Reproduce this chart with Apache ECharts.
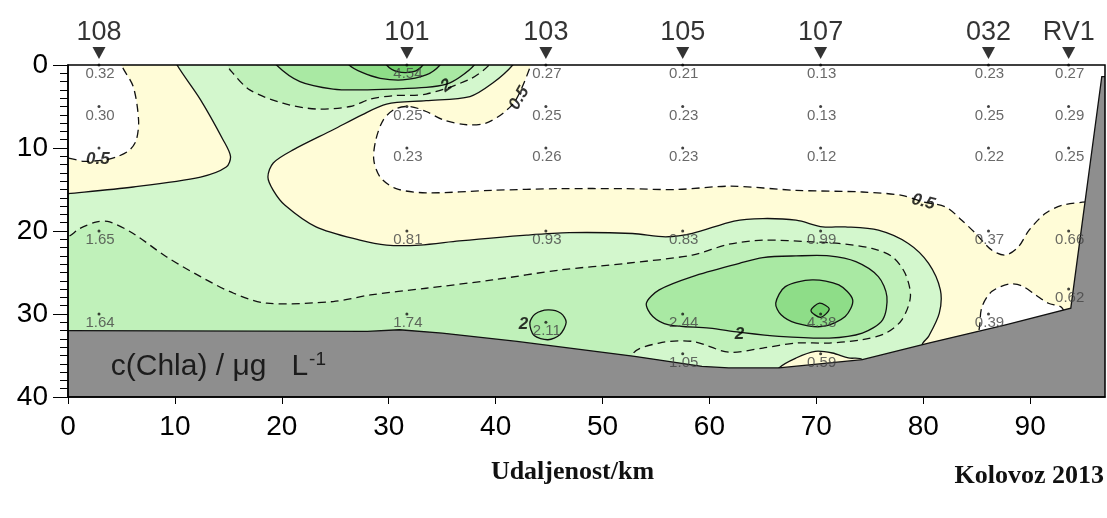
<!DOCTYPE html>
<html>
<head>
<meta charset="utf-8">
<title>Chla transekt</title>
<script src="https://cdn.jsdelivr.net/npm/echarts@6/dist/echarts.min.js"></script>
<style>
html,body{margin:0;padding:0;background:#fff}
#main{width:1107px;height:518px}
</style>
</head>
<body>
<div id="main"></div>
<script>
// postaje na transektu (km)
var stationNames = ['108', '101', '103', '105', '107', '032', 'RV1'];
var stationKm = [2.9, 31.7, 44.7, 57.5, 70.4, 86.1, 93.6];

// uzorci [km, dubina m, Chla]
var samples = [
    [2.9, 0, 0.32], [2.9, 5, 0.30], [2.9, 10, null], [2.9, 20, 1.65], [2.9, 30, 1.64],
    [31.7, 0, 4.54], [31.7, 5, 0.25], [31.7, 10, 0.23], [31.7, 20, 0.81], [31.7, 30, 1.74],
    [44.7, 0, 0.27], [44.7, 5, 0.25], [44.7, 10, 0.26], [44.7, 20, 0.93], [44.7, 31, 2.11],
    [57.5, 0, 0.21], [57.5, 5, 0.23], [57.5, 10, 0.23], [57.5, 20, 0.83], [57.5, 30, 2.44], [57.5, 34.8, 1.05],
    [70.4, 0, 0.13], [70.4, 5, 0.13], [70.4, 10, 0.12], [70.4, 20, 0.99], [70.4, 30, 4.38], [70.4, 34.8, 0.59],
    [86.1, 0, 0.23], [86.1, 5, 0.25], [86.1, 10, 0.22], [86.1, 20, 0.37], [86.1, 30, 0.39],
    [93.6, 0, 0.27], [93.6, 5, 0.29], [93.6, 10, 0.25], [93.6, 20, 0.66], [93.6, 27, 0.62]
];

// dno
var bottom = [[-1, 32.0], [0, 32.0], [28, 32.1], [31, 31.9], [35, 32.3], [42, 33.3], [53, 35.1], [59.3, 36.3],
    [61.8, 36.5], [66.5, 36.5], [74.3, 35.5], [80.5, 33.5], [87.7, 31.3], [93.8, 29.3], [96.7, 1.4], [99, 1.4], [99, 42], [-1, 42]];

// izolinije (km, m) ocitane sa slike
var domain = [[-1, -1], [99, -1], [99, 42], [-1, 42]];
var iso05a = [[-1, -1], [5.0, -1], [5.0, 0], [6.1, 2.6], [6.6, 6.6], [6.4, 9.0], [5.8, 10.2], [4.7, 11.0], [3.6, 11.4], [1.5, 11.6], [0, 11.2], [-1, 11.1]];
var iso05b = [[43.4, -1], [43.3, 0], [41.9, 4.2], [40.7, 5.8], [39.1, 7.0], [37.3, 7.2], [35.1, 6.6], [33.5, 5.6], [32.0, 5.0],
    [30.6, 5.3], [29.5, 6.6], [28.8, 9.0], [28.6, 11.4], [29.2, 13.5], [30.7, 14.9], [33.5, 15.4], [39.7, 15.1], [46.0, 14.9],
    [52.2, 14.9], [56.9, 15.0], [62.0, 14.6], [68.1, 15.1], [74.3, 15.3], [78.0, 15.7], [80.0, 16.5], [82.1, 17.1], [83.6, 18.7],
    [84.9, 20.3], [86.4, 22.3], [87.7, 22.9], [88.9, 21.9], [89.9, 19.9], [91.4, 17.9], [93.0, 16.9], [95.3, 16.5], [99, 16.3], [99, -1]];
var iso05c = [[85.0, 38], [85.3, 31.1], [85.5, 29.1], [86.4, 27.3], [88.0, 26.4], [89.2, 26.6], [90.5, 27.7], [91.7, 28.7], [93.0, 29.3], [94, 33], [94, 38]];
var iso1 = [[10.0, -1], [10.2, 0], [12.4, 4.2], [14.5, 9.0], [15.2, 11.0], [14.8, 12.3], [12.4, 13.5], [6.1, 14.7], [0, 15.5], [-1, 15.6],
    [-1, 42], [79.5, 42], [79.9, 33.7], [80.5, 32.7], [81.5, 29.9], [81.6, 27.1], [80.5, 23.9], [78.6, 21.5], [75.8, 19.9],
    [72.7, 19.5], [70.6, 19.5], [68.1, 18.7], [65.0, 18.5], [62.3, 18.8], [58.4, 20.3], [55.9, 20.7], [52.8, 20.3], [46.9, 20.2],
    [42.9, 20.5], [36.6, 21.2], [32.9, 21.7], [29.8, 21.7], [27.3, 21.1], [23.2, 19.5], [20.3, 16.9], [19.2, 15.1], [18.7, 13.5],
    [19.2, 11.8], [21.1, 10.2], [24.8, 7.8], [27.5, 6.0], [29.8, 4.7], [33.5, 4.3], [37.6, 3.8], [39.7, 2.2], [41.6, 0], [41.8, -1]];
var iso1pocket = [[66.0, 38], [66.5, 36.5], [68.1, 35.3], [69.9, 34.5], [71.5, 34.7], [73.0, 35.3], [74.3, 35.5], [75, 38]];
var iso15a = [[14.8, -1], [14.9, 0], [15.3, 0.8], [17.0, 3.0], [20.1, 4.6], [23.2, 5.3], [26.4, 5.0], [28.3, 4.1], [30.4, 3.7],
    [33.5, 3.5], [37.6, 1.7], [39.4, 0], [39.6, -1]];
var iso15b = [[-1, 20.8], [0, 20.7], [1.1, 19.7], [2.7, 18.9], [3.9, 18.9], [6.1, 20.3], [9.2, 23.1], [12.4, 25.5], [15.5, 27.5],
    [18.6, 28.7], [24.8, 28.5], [28.3, 27.7], [33.5, 26.9], [39.7, 25.9], [46.0, 24.7], [52.2, 23.9], [58.4, 22.9], [61.8, 21.6],
    [65.0, 21.1], [69.6, 21.3], [72.1, 21.5], [75.2, 22.1], [77.1, 23.1], [78.3, 25.1], [78.8, 27.9], [78.0, 30.7], [76.5, 32.3],
    [74.3, 33.1], [71.2, 33.5], [68.1, 33.5], [65.0, 34.1], [61.8, 34.6], [58.4, 33.3], [55.3, 33.5], [52.8, 34.9], [52.4, 42], [-1, 42]];
var iso2a = [[19.3, -1], [19.5, 0], [21.7, 2.0], [24.8, 2.9], [27.5, 3.0], [30.4, 2.9], [33.5, 2.7], [35.4, 2.3], [36.6, 1.5], [38.0, 0], [38.2, -1]];
var iso2b = [[62.8, 23.9], [58.4, 25.5], [55.3, 27.1], [54.1, 28.7], [54.7, 30.3], [56.2, 31.3], [60.0, 31.7], [62.8, 32.2], [66.5, 32.7],
    [71.2, 32.9], [74.3, 32.3], [76.2, 30.7], [76.6, 27.9], [75.8, 25.5], [73.7, 23.7], [71.2, 23.0], [68.1, 23.0], [65.0, 23.2]];
var iso2c = [[43.2, 31.1], [43.7, 30.0], [44.9, 29.5], [46.1, 29.9], [46.6, 31.0], [46.0, 32.5], [44.9, 33.1], [43.6, 32.6]];
var iso3a = [[26.1, -1], [26.3, 0], [27.5, 0.9], [29.2, 1.6], [31.3, 1.8], [33.5, 1.2], [34.8, 0], [35.0, -1]];
var iso3b = [[66.2, 28.7], [67.1, 26.7], [69.6, 25.9], [72.1, 26.5], [73.4, 28.3], [72.7, 30.3], [70.6, 31.5], [68.1, 31.1], [66.7, 30.1]];
var iso4a = [[29.6, -1], [29.8, 0], [30.8, 0.8], [32.3, 0.8], [33.2, 0], [33.4, -1]];
var iso4b = [[69.5, 29.6], [70.3, 28.7], [71.2, 29.4], [70.4, 30.4]];

// oznake izolinija [km, m, tekst, kut]
var contourLabels = [
    [2.8, 11.4, '0.5', 0], [35.4, 2.5, '2', 35], [42.2, 4.0, '0.5', 60],
    [80.0, 16.5, '0.5', -15], [62.8, 32.4, '2', 0], [42.6, 31.3, '2', 0]
];

var FONT = 'Liberation Sans, Arial, sans-serif';
var SERIF = 'Liberation Serif, Times New Roman, serif';

function polyLayer(pts, fill, dashed, z, smooth) {
    return {
        type: 'custom',
        coordinateSystem: 'cartesian2d',
        clip: true,
        silent: true,
        z: z,
        data: [[0, 0]],
        renderItem: function (params, api) {
            var p = pts.map(function (d) { return api.coord(d); });
            return {
                type: 'polygon',
                shape: { points: p, smooth: smooth == null ? 0.3 : smooth },
                style: {
                    fill: fill,
                    stroke: dashed == null ? null : '#111',
                    lineWidth: 1.3,
                    lineDash: dashed ? [8, 5] : null
                }
            };
        }
    };
}

var chart = echarts.init(document.getElementById('main'));

var series = [
    polyLayer(domain, '#fffcd7', null, 1, 0),
    polyLayer(iso05a, '#ffffff', true, 2),
    polyLayer(iso05b, '#ffffff', true, 2),
    polyLayer(iso05c, '#ffffff', true, 2),
    polyLayer(iso1, '#d3f7cd', false, 3),
    polyLayer(iso1pocket, '#fffcd7', false, 4),
    polyLayer(iso15a, '#c0f1ba', true, 5),
    polyLayer(iso15b, '#c0f1ba', true, 5),
    polyLayer(iso2a, '#a9e9a3', false, 6),
    polyLayer(iso2b, '#a9e9a3', false, 6),
    polyLayer(iso2c, '#a9e9a3', false, 6),
    polyLayer(iso3a, '#8edd88', false, 7),
    polyLayer(iso3b, '#8edd88', false, 7),
    polyLayer(iso4a, '#73d06d', false, 8),
    polyLayer(iso4b, '#73d06d', false, 8),
    polyLayer(bottom, '#8e8e8e', false, 9, 0),
    {
        type: 'scatter',
        z: 10,
        silent: true,
        symbol: 'circle',
        symbolSize: 3,
        itemStyle: { color: '#111' },
        data: samples,
        label: {
            show: true,
            position: 'inside',
            offset: [1, 9],
            fontSize: 15,
            fontFamily: FONT,
            color: '#444',
            formatter: function (p) { return p.value[2] == null ? '' : p.value[2].toFixed(2); }
        }
    },
    {
        type: 'scatter',
        z: 11,
        silent: true,
        symbolSize: 0,
        data: contourLabels,
        label: {
            show: true,
            position: 'inside',
            fontSize: 17,
            fontWeight: 'bold',
            fontStyle: 'italic',
            fontFamily: FONT,
            color: '#000',
            formatter: function (p) { return p.value[2]; }
        },
        labelLayout: function (p) {
            return { rotate: contourLabels[p.dataIndex][3] };
        }
    },
    {
        type: 'scatter',
        z: 11,
        silent: true,
        clip: false,
        symbol: 'triangle',
        symbolRotate: 180,
        symbolSize: [13, 12],
        itemStyle: { color: '#000' },
        data: stationKm.map(function (k, i) { return [k, -1.45, stationNames[i]]; }),
        label: {
            show: true,
            position: 'top',
            distance: 1,
            fontSize: 27,
            fontFamily: FONT,
            color: '#000',
            formatter: function (p) { return p.value[2]; }
        }
    },
    {
        type: 'scatter',
        z: 11,
        silent: true,
        symbolSize: 0,
        data: [[4.0, 36.4]],
        label: {
            show: true,
            position: 'right',
            distance: 0,
            formatter: '{a|c(Chla) / μg   L}{s|-1}',
            rich: {
                a: { fontSize: 30, fontFamily: FONT, color: '#000' },
                s: { fontSize: 19, fontFamily: FONT, color: '#000', verticalAlign: 'top', padding: [0, 0, 14, 1] }
            }
        }
    }
];

chart.setOption({
    animation: false,
    backgroundColor: '#fff',
    title: {
        text: 'Kolovoz 2013',
        right: 3,
        top: 463,
        padding: 0,
        textStyle: { fontFamily: SERIF, fontWeight: 'bold', fontSize: 26, color: '#111' }
    },
    grid: { left: 68, right: 2, top: 65, bottom: 121, show: true, z: 15, backgroundColor: 'transparent', borderColor: '#000', borderWidth: 1.5 },
    xAxis: {
        type: 'value', min: 0, max: 97, interval: 10, position: 'bottom', z: 20,
        name: 'Udaljenost/km', nameLocation: 'middle', nameGap: 62,
        nameTextStyle: { fontFamily: SERIF, fontWeight: 'bold', fontSize: 26, color: '#111', padding: [0, 28, 0, 0] },
        axisLine: { onZero: false, lineStyle: { color: '#000', width: 1.5 } },
        axisTick: { inside: false, length: 7, lineStyle: { color: '#000' } },
        axisLabel: { fontSize: 28, fontFamily: FONT, color: '#000', margin: 16, showMaxLabel: false },
        splitLine: { show: false }
    },
    yAxis: {
        type: 'value', inverse: true, min: 0, max: 40, interval: 10, z: 20,
        axisLine: { show: true, onZero: false, lineStyle: { color: '#000', width: 1.5 } },
        axisTick: { show: true, length: 15, lineStyle: { color: '#000' } },
        minorTick: { show: true, splitNumber: 10, length: 8, lineStyle: { color: '#000' } },
        axisLabel: { fontSize: 28, fontFamily: FONT, color: '#000', margin: 20 },
        splitLine: { show: false }
    },
    series: series
});
</script>
</body>
</html>
